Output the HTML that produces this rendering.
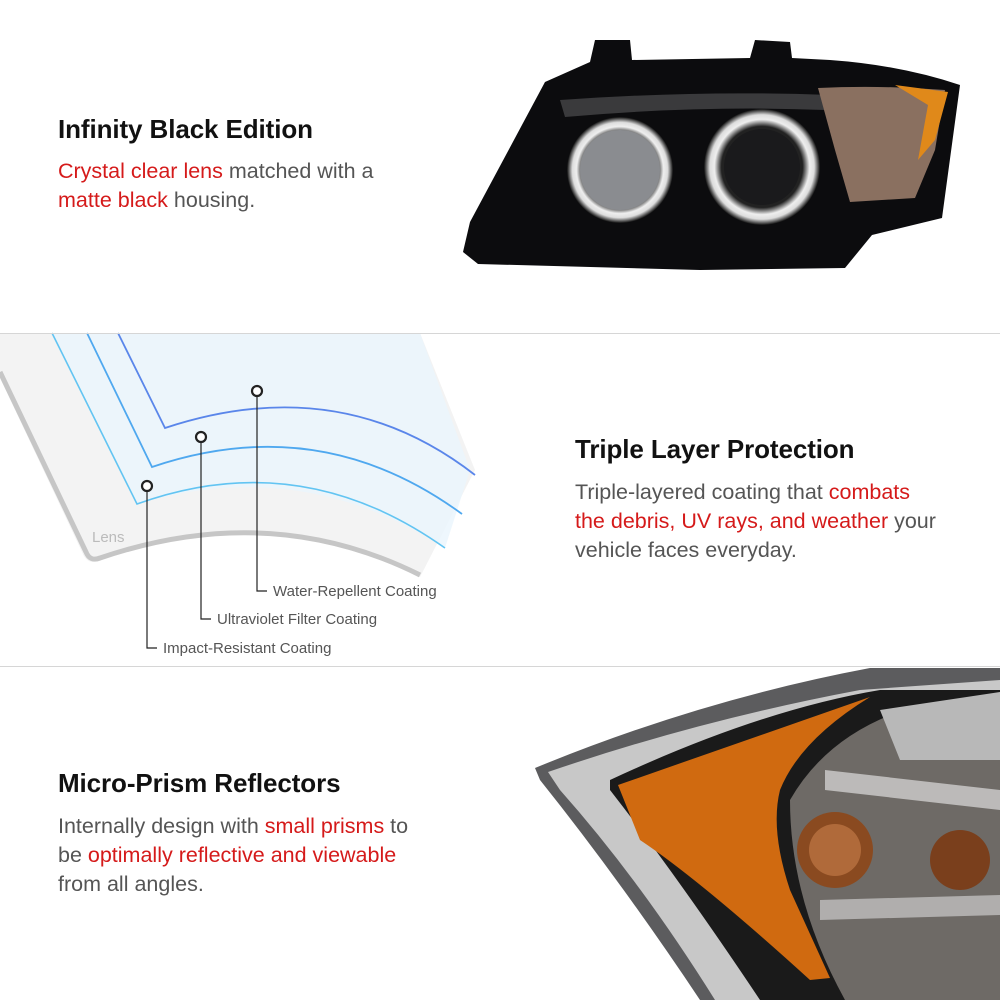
<!DOCTYPE html>
<html><head><meta charset="utf-8"><style>
body{margin:0;width:1000px;height:1000px;background:#fff;position:relative;overflow:hidden;font-family:"Liberation Sans",sans-serif}
.t{position:absolute;font-size:26px;font-weight:bold;color:#111;letter-spacing:-0.1px}
.p{position:absolute;font-size:21.5px;line-height:29px;color:#555}
.r{color:#d51a1a}
.hr{position:absolute;left:0;width:1000px;height:1px;background:#d6d6d6}
.lab{font-family:"Liberation Sans",sans-serif;font-size:15px;fill:#555}
</style></head><body>
<svg width="1000" height="1000" style="position:absolute;left:0;top:0">
<defs>
<radialGradient id="ring" cx="50%" cy="50%" r="50%"><stop offset="70%" stop-color="#222"/><stop offset="82%" stop-color="#eee"/><stop offset="90%" stop-color="#ddd"/><stop offset="100%" stop-color="#111"/></radialGradient>
</defs>
<path d="M590 62 L595 40 L630 40 L632 60 L750 58 L755 40 L790 42 L792 58 L830 60 Q900 65 960 85 L942 218 L872 235 L845 268 L700 270 L478 264 L463 252 L470 222 L545 82 Z" fill="#0c0c0e"/>
<path d="M560 100 Q700 90 830 95 L825 110 Q700 105 565 117 Z" fill="#3a3a3c"/>
<circle cx="620" cy="170" r="53" fill="url(#ring)"/>
<circle cx="620" cy="170" r="40" fill="#8a8c90"/>
<circle cx="762" cy="167" r="58" fill="url(#ring)"/>
<circle cx="762" cy="167" r="38" fill="#1a1a1c"/>
<path d="M818 88 Q880 85 945 90 L935 150 L915 198 L850 202 L835 150 Z" fill="#8a7060"/>
<path d="M895 85 L948 92 L935 140 L918 160 L928 105 Z" fill="#e0891a"/>
<path d="M0 333 L420 333 L475 470 L420 577 Q260 500 93 562 Q86 562 82 552 L0 378 Z" fill="#f3f3f3"/>
<path d="M0 372 L86 552 Q90 562 100 558 Q270 500 420 575" fill="none" stroke="#c6c6c6" stroke-width="5"/>
<path d="M52 333 L420 333 L470 470 L445 548 Q300 455 137 504 Z" fill="#eaf5fd" opacity="0.8"/>
<path d="M52 333 L137 504 Q300 445 445 548" fill="none" stroke="#62c4f2" stroke-width="1.6"/>
<path d="M87 333 L152 467 Q320 410 462 514" fill="none" stroke="#4fa8ef" stroke-width="1.8"/>
<path d="M118 333 L165 428 Q340 370 475 475" fill="none" stroke="#5a86ea" stroke-width="1.8"/>
<text x="92" y="542" style="font-size:15px;fill:#bbb;font-family:'Liberation Sans',sans-serif">Lens</text>
<g fill="#fff" stroke="#222" stroke-width="2.2"><circle cx="147" cy="486" r="5"/><circle cx="201" cy="437" r="5"/><circle cx="257" cy="391" r="5"/></g>
<g fill="none" stroke="#222" stroke-width="1.2">
<path d="M147 491 V648 H157"/><path d="M201 442 V619 H211"/><path d="M257 396 V591 H267"/></g>
<text class="lab" x="273" y="596">Water-Repellent Coating</text>
<text class="lab" x="217" y="624">Ultraviolet Filter Coating</text>
<text class="lab" x="163" y="653">Impact-Resistant Coating</text>
<path d="M535 768 Q700 700 870 668 L1000 668 L1000 1000 L700 1000 Q620 880 540 780 Z" fill="#5c5c5e"/>
<path d="M548 772 Q700 720 860 690 L1000 680 L1000 1000 L715 1000 Q640 880 560 790 Z" fill="#c8c8c8"/>
<path d="M610 780 Q760 710 880 690 L1000 690 L1000 1000 L760 1000 Q680 880 610 790 Z" fill="#1a1a1a"/>
<path d="M618 785 L870 697 Q800 740 780 790 Q770 830 790 890 L830 978 L810 980 Q700 880 640 840 Z" fill="#d06a10"/>
<path d="M790 800 Q830 730 920 705 L1000 695 L1000 1000 L845 1000 Q790 900 790 800 Z" fill="#6e6a66"/>
<path d="M880 710 L1000 692 L1000 760 L900 760 Z" fill="#b8b8b8"/>
<circle cx="835" cy="850" r="38" fill="#8a4a20"/>
<circle cx="835" cy="850" r="26" fill="#b06a3a"/>
<circle cx="960" cy="860" r="30" fill="#7a3f1c"/>
<path d="M825 770 L1000 790 L1000 810 L825 790 Z" fill="#ddd" opacity="0.7"/>
<path d="M820 900 L1000 895 L1000 915 L820 920 Z" fill="#ccc" opacity="0.7"/>
</svg>
<div class="hr" style="top:333px"></div>
<div class="hr" style="top:666px"></div>
<div class="t" style="left:58px;top:114px">Infinity Black Edition</div>
<div class="p" style="left:58px;top:157px"><span class="r">Crystal clear lens</span> matched with a<br><span class="r">matte black</span> housing.</div>
<div class="t" style="left:575px;top:434px">Triple Layer Protection</div>
<div class="p" style="left:575px;top:478px">Triple-layered coating that <span class="r">combats<br>the debris, UV rays, and weather</span> your<br>vehicle faces everyday.</div>
<div class="t" style="left:58px;top:768px">Micro-Prism Reflectors</div>
<div class="p" style="left:58px;top:812px">Internally design with <span class="r">small prisms</span> to<br>be <span class="r">optimally reflective and viewable</span><br>from all angles.</div>
</body></html>
